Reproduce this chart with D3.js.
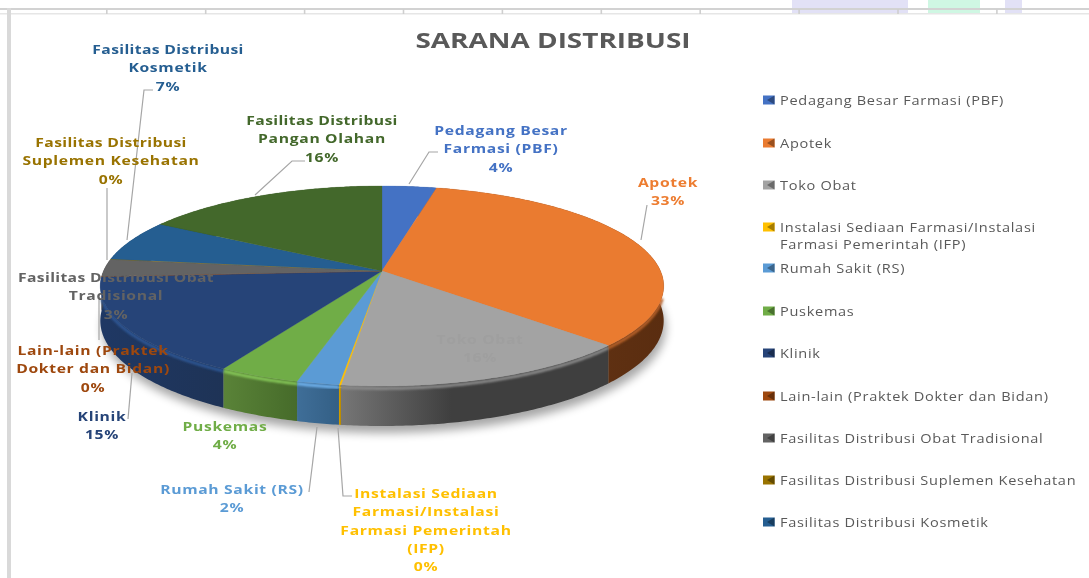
<!DOCTYPE html>
<html><head><meta charset="utf-8">
<script src="https://cdn.jsdelivr.net/npm/d3@7/dist/d3.min.js"></script>
<style>
html,body{margin:0;padding:0;background:#fff;overflow:hidden}
svg{display:block;filter:blur(.4px)}
text{font-family:"Open Sans",sans-serif}
</style></head><body>
<svg id="c" width="1089" height="578"></svg>
<script>
const chartTitle = "SARANA DISTRIBUSI";
const categories = ["Pedagang Besar Farmasi (PBF)","Apotek","Toko Obat","Instalasi Sediaan Farmasi/Instalasi Farmasi Pemerintah (IFP)","Rumah Sakit (RS)","Puskemas","Klinik","Lain-lain (Praktek Dokter dan Bidan)","Fasilitas Distribusi Obat Tradisional","Fasilitas Distribusi Suplemen Kesehatan","Fasilitas Distribusi Kosmetik","Fasilitas Distribusi Pangan Olahan"];
const values = [3.6,33.4,15.0,0.1,2.1,4.05,15.85,0.05,2.8,0.05,6.6,16.4];
const percentLabels = ["4%","33%","16%","0%","2%","4%","15%","0%","3%","0%","7%","16%"];
const legendCategories = categories.slice(0,11);
const legendLines = [["Pedagang Besar Farmasi (PBF)"],["Apotek"],["Toko Obat"],["Instalasi Sediaan Farmasi/Instalasi","Farmasi Pemerintah (IFP)"],["Rumah Sakit (RS)"],["Puskemas"],["Klinik"],["Lain-lain (Praktek Dokter dan Bidan)"],["Fasilitas Distribusi Obat Tradisional"],["Fasilitas Distribusi Suplemen Kesehatan"],["Fasilitas Distribusi Kosmetik"]];
const labelLines = [["Pedagang Besar","Farmasi (PBF)"],["Apotek"],["Toko Obat"],["Instalasi Sediaan","Farmasi/Instalasi","Farmasi Pemerintah","(IFP)"],["Rumah Sakit (RS)"],["Puskemas"],["Klinik"],["Lain-lain (Praktek","Dokter dan Bidan)"],["Fasilitas Distribusi Obat","Tradisional"],["Fasilitas Distribusi","Suplemen Kesehatan"],["Fasilitas Distribusi","Kosmetik"],["Fasilitas Distribusi","Pangan Olahan"]];

// styles and layout
const topColors = ["#4472c4","#ea7b30","#a3a3a3","#ffc000","#5b9bd5","#70ad47","#264478","#9e480e","#636363","#997300","#255e91","#43682b"];
const rimColors = ["#4472c4","#b8622a","#8a8a8a","#ffc000","#6fb2ee","#86c858","#2f5794","#9e480e","#636363","#997300","#255e91","#43682b"];
const sideLeft  = ["#2f4f88","#6e3a17","#767676","#d9a300","#3f6e98","#5a8338","#1f3864","#6e3209","#444","#6a5000","#1a4265","#2f481e"];
const sideRight = ["#2f4f88","#5a2d10","#3f3f3f","#b38600","#335f85","#466b2a","#1e3356","#6e3209","#444","#6a5000","#1a4265","#2f481e"];
const labelColors = ["#4472c4","#ed7d31","#9f9f9f","#ffc000","#5b9bd5","#70ad47","#264478","#9e480e","#636363","#997300","#255e91","#43682b"];
const labelPos = [[501,135],[668,187],[480,344],[426,498],[232,494],[225,431],[102,421],[93,355],[116,282],[111,147],[168,54],[322,125]];
const leaders = [
 [[438,152],[429,152],[409,184]],
 [[647,205],[641,240]],
 null,
 [[352,496],[343,496],[338,428]],
 [[309,492],[317,427]],
 null,
 [[128,419],[132,373]],
 null,
 [[99,300],[99,340]],
 [[107,188],[107,260]],
 [[153,90],[144,90],[127,240]],
 [[305,161],[292,161],[255,195]]
];
const legendY = [100,143,185,227,268,311,353,396,438,480,522];

const svg = d3.select("#c");
const defs = svg.append("defs");
defs.append("filter").attr("id","shadow").attr("x","-10%").attr("y","-20%").attr("width","120%").attr("height","140%")
  .append("feGaussianBlur").attr("stdDeviation",5);
defs.append("filter").attr("id","rim").attr("x","-10%").attr("y","-50%").attr("width","120%").attr("height","200%")
  .append("feGaussianBlur").attr("stdDeviation",1);

// background bits behind the chart frame
[[792,116,"#e2e1f6"],[928,52,"#cff7e3"],[1005,17,"#e2e1f6"]].forEach(d=>
  svg.append("rect").attr("x",d[0]).attr("y",0).attr("width",d[1]).attr("height",14).attr("fill",d[2]));
svg.append("rect").attr("x",0).attr("y",8).attr("width",1089).attr("height",2).attr("fill","#d2d2d2");
svg.append("rect").attr("x",0).attr("y",13).attr("width",1089).attr("height",1.5).attr("fill","#e6e6e6");
svg.append("rect").attr("x",7).attr("y",8).attr("width",4).attr("height",570).attr("fill","#d9d9d9");
d3.range(10).forEach(i=>svg.append("rect").attr("x",107+i*98.9-1).attr("y",9).attr("width",1.6).attr("height",5).attr("fill","#cfcfcf"));

svg.append("text").attr("transform","translate(553,48) scale(1.27,1)").attr("text-anchor","middle")
  .attr("font-size",22).attr("font-weight",700).attr("fill","#595959").text(chartTitle);

// perspective projection of the pie disk
const cx=382, cy=271, k=0.15, B=97.75, A=278.5, D=34;
const pt=(a,z=0)=>{const u=Math.sin(a),v=Math.cos(a),w=1+k*v;return [cx+A*u/w, cy-B*v/w+z*D/w];};
const arcs=d3.pie().sort(null).value(d=>d)(values);
const samples=(a0,a1)=>{const n=Math.max(2,Math.ceil((a1-a0)/0.01));return d3.range(n+1).map(i=>a0+(a1-a0)*i/n);};
const line=d3.line();

// shadow
const ringAll=samples(0,2*Math.PI).map(a=>{const p=pt(a,1);return [p[0]+2,p[1]+7];});
svg.append("path").attr("d",line(ringAll)+"Z").attr("fill","#000").attr("opacity",.35).attr("filter","url(#shadow)");

// sides
arcs.forEach((d,i)=>{
  const as=samples(d.startAngle,d.endAngle);
  const top=as.map(a=>pt(a,0)), bot=as.map(a=>pt(a,1)).reverse();
  const xs=top.map(p=>p[0]);
  const id="side"+i;
  const g=defs.append("linearGradient").attr("id",id).attr("gradientUnits","userSpaceOnUse")
    .attr("x1",d3.min(xs)).attr("x2",i===2?d3.min(xs)+110:d3.max(xs)+.01).attr("y1",0).attr("y2",0);
  g.append("stop").attr("offset",0).attr("stop-color",sideLeft[i]);
  g.append("stop").attr("offset",1).attr("stop-color",sideRight[i]);
  svg.append("path").attr("d",line(top.concat(bot))+"Z").attr("fill","url(#"+id+")");
});
// rim highlight along the front edge
arcs.forEach((d,i)=>{
  const as=samples(d.startAngle,d.endAngle).filter(a=>Math.cos(a)<-0.25);
  if(as.length<2) return;
  svg.append("path").attr("d",line(as.map(a=>pt(a,0.06))))
    .attr("fill","none").attr("stroke",rimColors[i]).attr("stroke-width",3).attr("filter","url(#rim)");
});
// top surface
arcs.forEach((d,i)=>{
  const pts=[[cx,cy]].concat(samples(d.startAngle,d.endAngle).map(a=>pt(a,0)));
  svg.append("path").attr("d",line(pts)+"Z").attr("fill",topColors[i]).attr("stroke",topColors[i]).attr("stroke-width",.3);
});

// leaders
leaders.forEach(l=>{ if(l) svg.append("path").attr("d",line(l)).attr("fill","none").attr("stroke","#a6a6a6").attr("stroke-width",1.2); });

// data labels
labelLines.forEach((ls,i)=>{
  ls.concat([percentLabels[i]]).forEach((s,j)=>{
    svg.append("text").attr("text-anchor","middle").attr("font-size",13.2).attr("font-weight",700)
      .attr("letter-spacing",s.startsWith("Fasilitas")?.3:.55).attr("fill",labelColors[i])
      .attr("transform",`translate(${labelPos[i][0]},${labelPos[i][1]+j*18.3}) scale(1.19,1)`).text(s);
  });
});

// legend
legendCategories.forEach((c,i)=>{
  const y=legendY[i], col=topColors[i], g=svg.append("g");
  g.append("rect").attr("x",763).attr("y",y-4.5).attr("width",11.5).attr("height",9).attr("fill",col);
  g.append("path").attr("d",line([[774.5,y-4.5],[774.5,y+4.5],[767,y]])+"Z").attr("fill",d3.color(col).darker(1.2));
  legendLines[i].forEach((s,j)=>g.append("text").attr("font-size",13).attr("letter-spacing",.62).attr("fill","#595959")
    .attr("transform",`translate(780,${y+5+j*17}) scale(1.12,1)`).text(s));
});
</script></body></html>
